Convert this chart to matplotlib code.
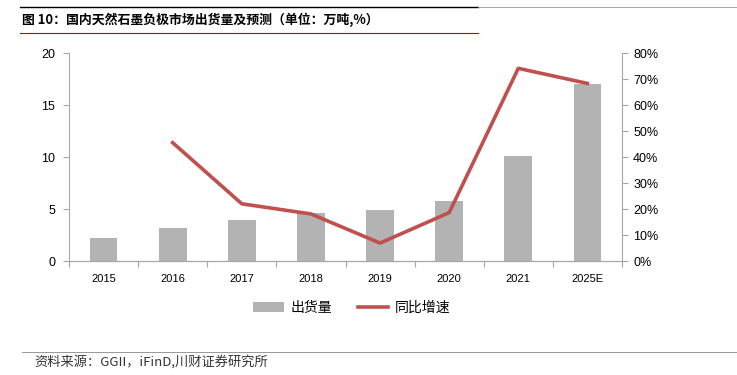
import matplotlib.pyplot as plt
import numpy as np
from matplotlib.lines import Line2D
from matplotlib.patches import Patch

plt.rcParams['font.family'] = ['Liberation Sans', 'Noto Sans CJK SC', 'DejaVu Sans']

# datos
anios = ['2015', '2016', '2017', '2018', '2019', '2020', '2021', '2025E']
envios = [2.2, 3.2, 3.9, 4.6, 4.9, 5.8, 10.1, 17.0]
crecimiento = [np.nan, 45.5, 22.0, 18.1, 6.9, 18.6, 74.1, 68.3]

gris = '#b3b3b3'
rojo = '#c0504d'
eje = '#a6a6a6'
cjk = ['Noto Sans CJK SC', 'DejaVu Sans']

fig = plt.figure(figsize=(7.37, 3.75), dpi=100)
ax1 = fig.add_axes([69 / 737, 1 - 261 / 375, (622 - 69) / 737, (261 - 53) / 375])
ax2 = ax1.twinx()

x = np.arange(len(anios))
ax1.bar(x, envios, width=0.4, color=gris, zorder=2)
ax2.plot(x, crecimiento, color=rojo, linewidth=2.6, zorder=3)

ax1.set_xlim(-0.5, len(anios) - 0.5)
ax1.set_ylim(0, 20)
ax1.set_yticks([0, 5, 10, 15, 20])
ax2.set_ylim(0, 80)
ax2.set_yticks(range(0, 81, 10))
ax2.set_yticklabels([f'{v}%' for v in range(0, 81, 10)])

ax1.set_xticks(np.arange(-0.5, len(anios), 1), minor=False)
ax1.set_xticklabels([])
ax1.set_xticks(x, minor=True)
ax1.set_xticklabels(anios, minor=True)
ax1.tick_params(axis='x', which='major', length=4, color=eje)
ax1.tick_params(axis='x', which='minor', length=0, pad=9, labelsize=8)
ax1.tick_params(axis='y', length=4, color=eje, labelsize=9, pad=6)
ax2.tick_params(axis='y', length=4, color=eje, labelsize=9, pad=4)

for a in (ax1, ax2):
    a.spines['top'].set_visible(False)
    for s in ('left', 'right', 'bottom'):
        a.spines[s].set_color(eje)
ax1.spines['right'].set_visible(False)
ax2.spines['left'].set_visible(False)

handles = [Patch(facecolor=gris, edgecolor='none'),
           Line2D([], [], color=rojo, linewidth=2.6)]
leg = fig.legend(handles, ['出货量', '同比增速'], loc='center', ncol=2,
                 bbox_to_anchor=(352 / 737, 1 - 308 / 375), frameon=False,
                 prop={'family': cjk, 'size': 10}, handlelength=2.2,
                 columnspacing=1.8, handletextpad=0.5)

# titulo y lineas decorativas
fig.text(22 / 737, 1 - 20 / 375, '图 10：国内天然石墨负极市场出货量及预测（单位：万吨,%）',
         family=cjk, fontsize=9.3, fontweight='bold', va='center')
fig.add_artist(Line2D([20 / 737, 478 / 737], [1 - 7 / 375] * 2, color='black', linewidth=1))
fig.add_artist(Line2D([478 / 737, 1], [1 - 7 / 375] * 2, color='#999999', linewidth=0.6))
fig.add_artist(Line2D([20 / 737, 478 / 737], [1 - 33 / 375] * 2, color='#c00000', linewidth=0.8))
fig.add_artist(Line2D([22 / 737, 1], [1 - 352 / 375] * 2, color='#888888', linewidth=0.6))
fig.text(34 / 737, 1 - 362 / 375, '资料来源：GGII，iFinD,川财证券研究所',
         family=cjk, fontsize=9.5, style='italic', va='center', color='#333333')

fig.savefig('out.png', dpi=100)
